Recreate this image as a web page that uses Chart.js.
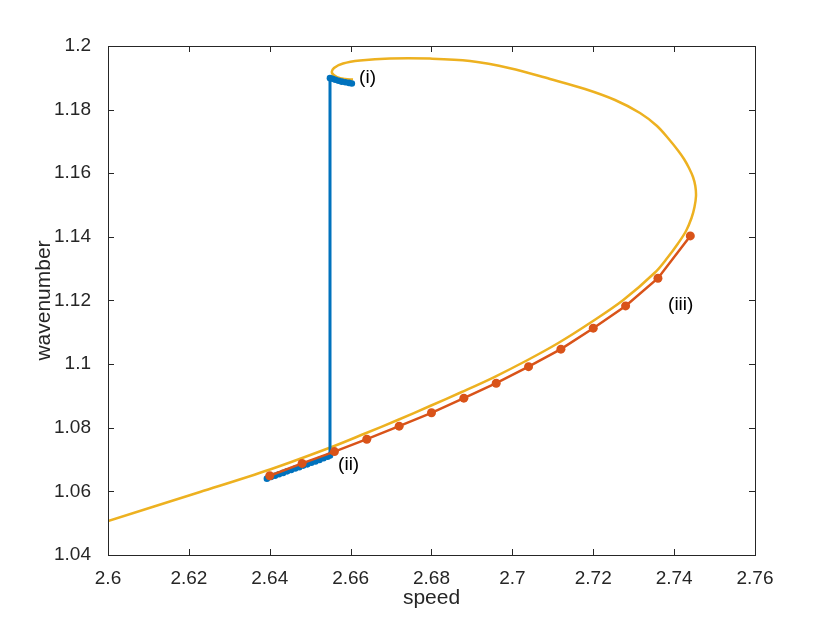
<!DOCTYPE html>
<html>
<head>
<meta charset="utf-8">
<script src="https://cdn.jsdelivr.net/npm/chart.js@4/dist/chart.umd.min.js"></script>
<style>
  body { margin: 0; background: #fff; }
  canvas { display: block; }
</style>
</head>
<body>
<canvas id="branchChart" width="830" height="623"></canvas>
<script>
// * data
const yellowSpeed = [2.6, 2.62275, 2.64006, 2.65564, 2.66356, 2.67164, 2.67963, 2.68747, 2.69553, 2.70355, 2.71136, 2.71937, 2.72743, 2.73527, 2.73849, 2.74096, 2.74294, 2.7443, 2.74504, 2.74541, 2.74524, 2.74467, 2.74368, 2.74244, 2.74096, 2.73898, 2.73577, 2.73156, 2.72538, 2.71796, 2.70931, 2.69941, 2.68952, 2.67963, 2.66974, 2.66232, 2.65812, 2.65589, 2.6554, 2.65663, 2.65861, 2.66059];
const yellowWave = [1.05069, 1.0598, 1.06688, 1.07411, 1.07819, 1.08244, 1.08684, 1.09124, 1.09595, 1.10114, 1.10664, 1.11308, 1.12016, 1.1288, 1.13367, 1.13792, 1.14185, 1.14593, 1.14939, 1.15285, 1.15599, 1.15882, 1.16165, 1.16448, 1.16715, 1.1703, 1.17485, 1.17894, 1.18302, 1.18648, 1.18962, 1.19302, 1.19528, 1.19604, 1.19607, 1.19544, 1.1945, 1.19308, 1.19151, 1.19025, 1.18962, 1.18946];

const orangeSpeed = [2.64, 2.648, 2.656, 2.664, 2.672, 2.68, 2.688, 2.696, 2.704, 2.712, 2.72, 2.728, 2.736, 2.744];
const orangeWave = [1.0649, 1.0688, 1.0725, 1.0764, 1.0805, 1.0847, 1.0893, 1.094, 1.0992, 1.1047, 1.1113, 1.1183, 1.127, 1.1403];

const blueSpeed = [2.6393, 2.6403, 2.6413, 2.6423, 2.6433, 2.6443, 2.6453, 2.6463, 2.6473, 2.6483, 2.6493, 2.6503, 2.6513, 2.6523, 2.6533, 2.6543, 2.6549, 2.6549, 2.6555, 2.6562, 2.657, 2.6578, 2.6587, 2.6596, 2.6603];
const blueWave = [1.064, 1.0645, 1.0649, 1.0654, 1.0658, 1.0663, 1.0667, 1.0672, 1.0676, 1.0681, 1.0685, 1.069, 1.0694, 1.0699, 1.0704, 1.0709, 1.0713, 1.1899, 1.1897, 1.1894, 1.1891, 1.1888, 1.1886, 1.1884, 1.1882];

const labelText = ["(i)", "(ii)", "(iii)"];
const labelSpeed = [2.6621, 2.6569, 2.7385];
const labelWave = [1.1899, 1.0683, 1.1186];

const toPoints = (xs, ys) => xs.map((x, i) => ({ x: x, y: ys[i] }));
const fmt = (v) => String(Number(v.toFixed(2)));
const axisColor = "#262626";
const family = "'Liberation Sans', Arial, sans-serif";
const tickFont = { family: family, size: 19 };
const titleFont = { family: family, size: 21 };

// ? ticks inside + box round the axes + the (i) (ii) (iii) notes
const boxTicks = {
  id: "boxTicks",
  afterDraw(chart) {
    const { ctx, chartArea: a, scales } = chart;
    ctx.save();
    ctx.strokeStyle = axisColor;
    ctx.lineWidth = 1;
    ctx.strokeRect(a.left + 0.5, a.top + 0.5, a.right - a.left, a.bottom - a.top);
    ctx.beginPath();
    scales.x.ticks.forEach((t) => {
      const px = Math.round(scales.x.getPixelForValue(t.value)) + 0.5;
      ctx.moveTo(px, a.bottom); ctx.lineTo(px, a.bottom - 6);
      ctx.moveTo(px, a.top); ctx.lineTo(px, a.top + 6);
    });
    scales.y.ticks.forEach((t) => {
      const py = Math.round(scales.y.getPixelForValue(t.value)) + 0.5;
      ctx.moveTo(a.left, py); ctx.lineTo(a.left + 6, py);
      ctx.moveTo(a.right, py); ctx.lineTo(a.right - 6, py);
    });
    ctx.stroke();
    ctx.fillStyle = "#000";
    ctx.font = "19px " + family;
    ctx.textAlign = "left";
    ctx.textBaseline = "middle";
    labelText.forEach((txt, i) => {
      ctx.fillText(txt, scales.x.getPixelForValue(labelSpeed[i]), scales.y.getPixelForValue(labelWave[i]));
    });
    ctx.restore();
  },
};

const ctx = document.getElementById("branchChart").getContext("2d");
const branchChart = new Chart(ctx, {
  type: "scatter",
  data: {
    datasets: [
      {
        data: toPoints(orangeSpeed, orangeWave),
        showLine: true,
        borderColor: "#D95319",
        backgroundColor: "#D95319",
        borderWidth: 2.5,
        pointRadius: 4.5,
        pointBorderWidth: 0,
        order: 0,
      },
      {
        data: toPoints(blueSpeed, blueWave),
        showLine: true,
        borderColor: "#0072BD",
        backgroundColor: "#0072BD",
        borderWidth: 3,
        pointRadius: 3.3,
        pointBorderWidth: 0,
        order: 1,
      },
      {
        data: toPoints(yellowSpeed, yellowWave),
        showLine: true,
        borderColor: "#EDB120",
        borderWidth: 2.5,
        pointRadius: 0,
        tension: 0.35,
        order: 2,
      },
    ],
  },
  options: {
    responsive: false,
    animation: false,
    devicePixelRatio: 1,
    layout: { padding: { top: 46, right: 75, left: 0, bottom: 0 } },
    plugins: { legend: { display: false }, tooltip: { enabled: false } },
    scales: {
      x: {
        type: "linear",
        min: 2.6,
        max: 2.76,
        afterFit: (s) => { s.height = 68; },
        ticks: { stepSize: 0.02, color: axisColor, font: tickFont, padding: 4, maxRotation: 0, callback: fmt },
        grid: { display: false },
        border: { display: false },
        title: { display: true, text: "speed", color: axisColor, font: titleFont, padding: { top: 0, bottom: 12 } },
      },
      y: {
        type: "linear",
        min: 1.04,
        max: 1.2,
        afterFit: (s) => { s.width = 108; },
        ticks: { stepSize: 0.02, color: axisColor, font: tickFont, padding: 9, callback: fmt },
        grid: { display: false },
        border: { display: false },
        title: { display: true, text: "wavenumber", color: axisColor, font: titleFont, padding: { top: 32, bottom: 0 } },
      },
    },
  },
  plugins: [boxTicks],
});
</script>
</body>
</html>
